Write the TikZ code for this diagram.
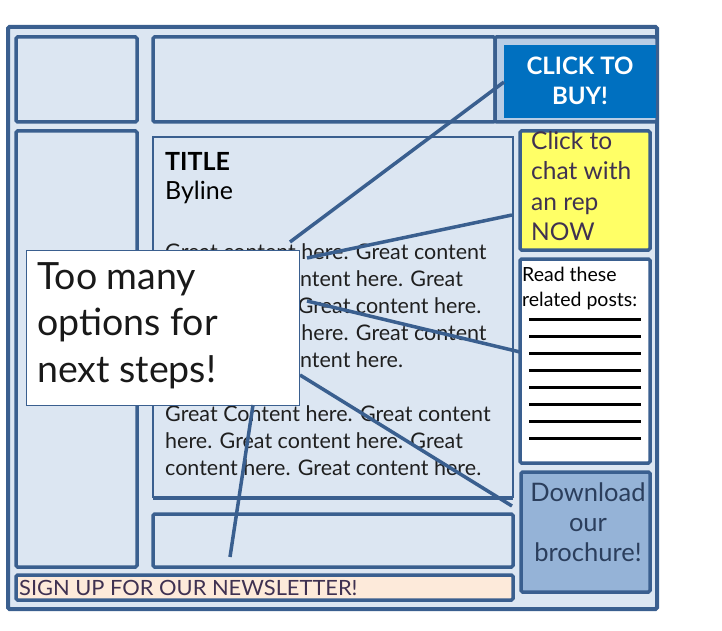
\documentclass[tikz,border=0pt]{standalone}
\usepackage{fontspec}
\setmainfont{Lato}
\definecolor{edge}{HTML}{3A5F8F}
\definecolor{pale}{HTML}{DCE6F2}
\definecolor{midblue}{HTML}{B9CDE5}
\definecolor{buyblue}{HTML}{0070C0}
\definecolor{chatyellow}{HTML}{FFFF66}
\definecolor{dlblue}{HTML}{95B3D7}
\definecolor{peach}{HTML}{FDEADA}
\definecolor{plum}{HTML}{3F3151}
\definecolor{navy}{HTML}{2B3E5C}
\tikzset{
  thickbox/.style={draw=edge, line width=3.5pt, rounded corners=1.5pt},
  thinbox/.style={draw=edge, line width=1.8pt},
  link/.style={draw=edge, line width=3.5pt},
  postline/.style={draw=black, line width=3pt},
  txt/.style={inner sep=0pt, align=left, anchor=west},
}
\begin{document}
\begin{tikzpicture}[x=1pt,y=-1pt]
\useasboundingbox (0,0) rectangle (722,631);
% outer frame
\draw[thickbox, line width=4pt, fill=pale] (8,27) rectangle (657,609);
% top row
\draw[thickbox] (16,37) rectangle (137,122);
\draw[thickbox, fill=midblue] (495,37) rectangle (657,122);
\draw[thickbox] (153,37) rectangle (495,122);
\fill[buyblue] (504,45) rectangle (656,118);
\node[inner sep=0pt, align=center, text=white, font=\fontsize{24}{30}\selectfont\bfseries] (buy) at (580,81) {CLICK TO\\BUY!};
% left column
\draw[thickbox] (16,131) rectangle (137,567);
% content box
\draw[thinbox] (153,137) rectangle (513,497);
\draw[edge, line width=3.5pt] (153,498) -- (513,498);
\node[txt, font=\fontsize{25}{31}\selectfont\bfseries] (title) at (165,161) {TITLE};
\node[txt, font=\fontsize{25}{31}\selectfont] (byline) at (165,192) {Byline};
\node[txt, anchor=north west, font=\fontsize{21.5}{27}\selectfont, text=black!88] (body) at (165,243)
{Great content here. Great content\\here. Great content here. Great\\content here. Great content here.\\Great content here. Great content\\here. Great content here.\\[27pt]Great Content here. Great content\\here. Great content here. Great\\content here. Great content here.};
% bottom middle box
\draw[thickbox] (153,514) rectangle (513,567);
% newsletter
\draw[thickbox, fill=peach] (16,575) rectangle (513,600);
\node[txt, text=plum, font=\fontsize{21}{22}\selectfont] (news) at (19,588) {\scalebox{1.04}[1]{SIGN UP FOR OUR NEWSLETTER!}};
% chat box
\draw[thickbox, fill=chatyellow] (520,131) rectangle (650,250);
\node[txt, anchor=north west, text=plum, font=\fontsize{24.5}{30.5}\selectfont] (chat) at (531,131) {Click to\\chat with\\an rep\\NOW};
% related posts
\draw[thickbox, fill=white] (520,259) rectangle (650,463);
\node[txt, anchor=north west, font=\fontsize{19.5}{25}\selectfont] (read) at (522,267) {Read these\\related posts:};
\foreach \k in {0,...,7} {
  \coordinate (pl\k) at (529,319+17*\k);
  \coordinate (pr\k) at (641,319+17*\k);
  \draw[postline] (pl\k) -- (pr\k);
}
% download
\draw[thickbox, fill=dlblue] (521,472) rectangle (650,592);
\node[inner sep=0pt, align=center, text=navy, font=\fontsize{25.5}{30}\selectfont] (dl) at (588,522) {Download\\our\\brochure!};
% callout
\draw[draw=edge, line width=1pt, fill=white] (26,250) rectangle (299,405);
\node[txt, anchor=north west, font=\fontsize{37.5}{46.5}\selectfont, text=black!90] (callout) at (37,262) {Too many\\options for\\next steps!};
% connectors
\coordinate (s1) at (290,242); \coordinate (e1) at (504,82);
\coordinate (s2) at (307,258); \coordinate (e2) at (512,215);
\coordinate (s3) at (307,301); \coordinate (e3) at (520,352);
\coordinate (s4) at (300,375); \coordinate (e4) at (512,506);
\coordinate (s5) at (253,405); \coordinate (e5) at (230,557);
\draw[link] (s1) -- (e1);
\draw[link] (s2) -- (e2);
\draw[link] (s3) -- (e3);
\draw[link] (s4) -- (e4);
\draw[link] (s5) -- (e5);
\end{tikzpicture}
\end{document}
